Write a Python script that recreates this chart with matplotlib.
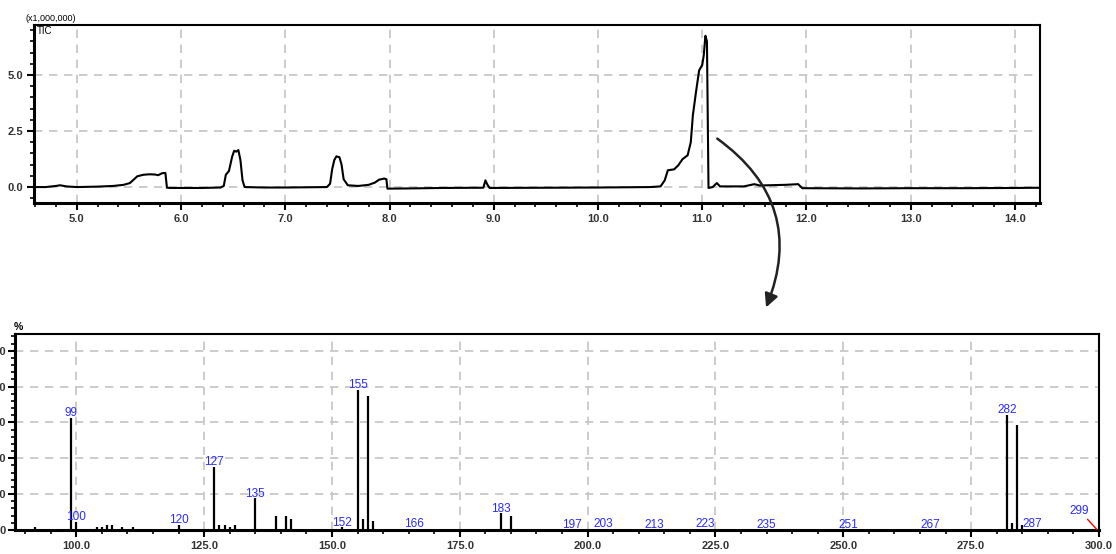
import matplotlib.pyplot as plt
from matplotlib.ticker import MultipleLocator, FormatStrFormatter

plt.rcParams['font.family'] = ['Liberation Sans', 'DejaVu Sans']

# TIC chromatogram (retention time in min, intensity x1,000,000)
rt = [4.59, 4.70, 4.80, 4.84, 4.90, 5.00, 5.20, 5.35, 5.45, 5.51, 5.55, 5.58, 5.64, 5.70, 5.75,
      5.78, 5.82, 5.85, 5.865, 5.90, 6.20, 6.38, 6.41, 6.43, 6.46, 6.49, 6.51, 6.53, 6.55, 6.57,
      6.59, 6.61, 6.80, 7.00, 7.40, 7.43, 7.45, 7.47, 7.49, 7.52, 7.54, 7.56, 7.60, 7.70, 7.80,
      7.86, 7.90, 7.95, 7.97, 7.98, 8.20, 8.50, 8.90, 8.92, 8.94, 8.96, 9.50, 10.00, 10.50, 10.60,
      10.64, 10.67, 10.73, 10.77, 10.81, 10.86, 10.89, 10.91, 10.94, 10.97, 11.00, 11.015, 11.03,
      11.045, 11.06, 11.10, 11.14, 11.17, 11.40, 11.50, 11.55, 11.80, 11.92, 11.96, 12.50, 13.00,
      13.50, 14.00, 14.24]
tic = [0.0, 0.0, 0.05, 0.08, 0.03, 0.0, 0.02, 0.05, 0.10, 0.18, 0.35, 0.48, 0.55, 0.57, 0.56,
       0.53, 0.62, 0.63, -0.03, -0.04, -0.04, -0.02, 0.05, 0.55, 0.72, 1.35, 1.62, 1.58, 1.65, 1.2,
       0.3, 0.0, -0.02, -0.02, 0.0, 0.15, 0.8, 1.2, 1.37, 1.33, 1.0, 0.35, 0.08, 0.05, 0.10,
       0.2, 0.33, 0.38, 0.35, -0.07, -0.06, -0.04, -0.03, 0.3, 0.1, -0.04, -0.03, -0.02, 0.0, 0.03,
       0.3, 0.75, 0.79, 0.97, 1.24, 1.42, 2.0, 3.2, 4.24, 5.2, 5.45, 5.9, 6.75,
       6.5, -0.04, 0.0, 0.18, 0.03, 0.03, 0.13, 0.07, 0.10, 0.13, -0.05, -0.06, -0.05,
       -0.05, -0.04, -0.03]

# mass spectrum (m/z, relative intensity %)
mz = [92, 99, 100, 104, 105, 106, 107, 109, 111, 120, 127, 128, 129, 130, 131, 135, 139, 141,
      142, 152, 155, 156, 157, 158, 166, 183, 185, 197, 203, 213, 223, 235, 251, 267, 282, 283,
      284, 285, 287, 299]
inten = [1.5, 62.6, 4.6, 1.5, 1.5, 2.8, 2.8, 1.5, 1.5, 2.8, 35.2, 2.8, 2.8, 1.5, 2.8, 17.6, 8.0, 8.0,
         6.0, 1.5, 78.3, 6.0, 75.0, 5.0, 0.6, 9.3, 8.0, 0.5, 0.6, 0.5, 0.6, 0.5, 0.5, 0.5, 64.4, 3.7,
         58.3, 2.8, 0.6, 0.4]
labeled = [99, 100, 120, 127, 135, 152, 155, 166, 183, 197, 203, 213, 223, 235, 251, 267, 282, 287]

fig = plt.figure(figsize=(11.16, 5.54), dpi=100)
grid_kw = dict(color='#c4c4c4', linestyle=(0, (5, 4)), linewidth=1.2)

def style_axes(ax):
    for s in ax.spines.values():
        s.set_linewidth(1.5)
    ax.spines['bottom'].set_linewidth(2.2)
    ax.spines['left'].set_linewidth(2.2)
    ax.tick_params(which='major', direction='out', length=5, width=1.5, pad=3)
    ax.tick_params(which='minor', direction='out', length=3, width=1.2)
    ax.tick_params(top=False, right=False, which='both')
    for lab in ax.get_xticklabels() + ax.get_yticklabels():
        lab.set_fontsize(8)
        lab.set_fontweight('bold')
        lab.set_color('#333333')
    ax.grid(True, which='major', **grid_kw)
    ax.set_axisbelow(True)

# chromatogram
ax1 = fig.add_axes([0.0305, 0.6336, 0.9014, 0.3213])
ax1.plot(rt, tic, color='black', lw=1.5)
ax1.set_xlim(4.59, 14.24)
ax1.set_ylim(-0.71, 7.23)
ax1.xaxis.set_major_locator(MultipleLocator(1.0))
ax1.xaxis.set_minor_locator(MultipleLocator(0.2))
ax1.yaxis.set_major_locator(MultipleLocator(2.5))
ax1.yaxis.set_minor_locator(MultipleLocator(0.5))
ax1.xaxis.set_major_formatter(FormatStrFormatter('%.1f'))
ax1.yaxis.set_major_formatter(FormatStrFormatter('%.1f'))
style_axes(ax1)
ax1.text(-0.008, 1.01, '(x1,000,000)', transform=ax1.transAxes, fontsize=6.5, va='bottom', ha='left')
ax1.text(0.003, 0.995, 'TIC', transform=ax1.transAxes, fontsize=7, va='top', ha='left')

# spectrum
ax2 = fig.add_axes([0.0134, 0.0433, 0.9713, 0.3538])
ax2.vlines(mz, 0, inten, color='black', lw=1.6)
ax2.set_xlim(88, 300)
ax2.set_ylim(0, 109.3)
ax2.xaxis.set_major_locator(MultipleLocator(25))
ax2.xaxis.set_minor_locator(MultipleLocator(5))
ax2.yaxis.set_major_locator(MultipleLocator(20))
ax2.yaxis.set_minor_locator(MultipleLocator(4))
ax2.xaxis.set_major_formatter(FormatStrFormatter('%.1f'))
style_axes(ax2)
ax2.tick_params(axis='y', which='major', pad=1.5)
for m, h in zip(mz, inten):
    if m in labeled:
        ax2.text(m, h - 0.8, str(m), color='#2a2aff', fontsize=8.5, ha='center', va='bottom')
ax2.annotate('299', xy=(299.6, 0.3), xytext=(296.2, 7.5), color='#2a2aff', fontsize=8.5,
             ha='center', va='bottom',
             arrowprops=dict(arrowstyle='-', color='red', lw=1.0, shrinkA=0, shrinkB=0))
ax2.text(-0.001, 1.01, '%', transform=ax2.transAxes, fontsize=7.5, fontweight='bold',
         va='bottom', ha='left')

# curved arrow from the big peak to the spectrum
fig.patches.append(plt.matplotlib.patches.FancyArrowPatch(
    (0.6407, 0.7527), (0.6855, 0.4404), transform=fig.transFigure,
    connectionstyle='arc3,rad=-0.4', arrowstyle='-|>', mutation_scale=20,
    lw=1.8, color='#222222'))

plt.savefig('out.png', dpi=100)
